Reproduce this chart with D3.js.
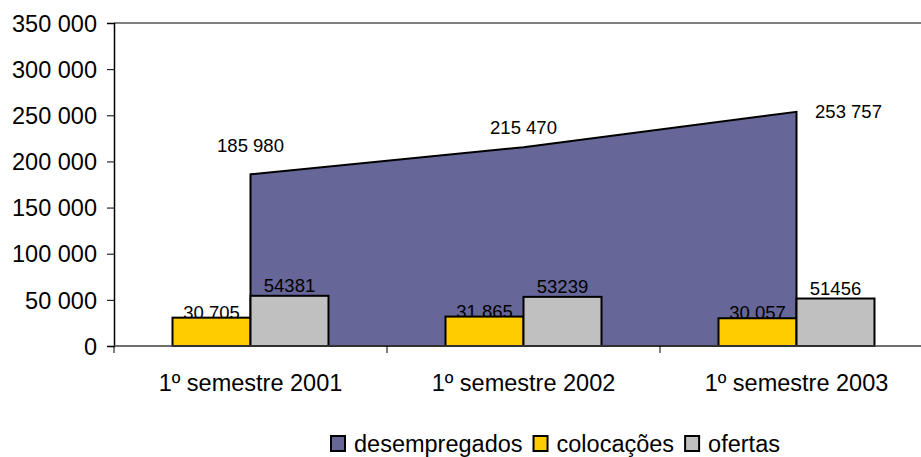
<!DOCTYPE html>
<html>
<head>
<meta charset="utf-8">
<script src="https://cdn.jsdelivr.net/npm/d3@7"></script>
<style>
	body { margin: 0; background: #fff; }
	text { font-family: "Liberation Sans", Arial, sans-serif; fill: #000; }
</style>
</head>
<body>
<div id="chart"></div>
<script>
const categories = ["1º semestre 2001", "1º semestre 2002", "1º semestre 2003"];
const desempregados = [185980, 215470, 253757];
const colocacoes = [30705, 31865, 30057];
const ofertas = [54381, 53239, 51456];
const colocacoesLabels = ["30 705", "31 865", "30 057"];
const ofertasLabels = ["54381", "53239", "51456"];
const desempregadosLabels = ["185 980", "215 470", "253 757"];
const yTicks = [0, 50000, 100000, 150000, 200000, 250000, 300000, 350000];

const width = 921, height = 457;
const margin = {top: 23, left: 114, bottom: 111};
const plotRight = 933;

const svg = d3.select("#chart")
	.append("svg")
	.attr("width", width)
	.attr("height", height);

const x = d3.scaleBand()
	.domain(categories)
	.range([margin.left, plotRight]);

const y = d3.scaleLinear()
	.domain([0, 350000])
	.range([height - margin.bottom, margin.top]);

const barW = 78;
const cx = d => x(d) + x.bandwidth() / 2;

// top border of plot area
svg.append("line")
	.attr("x1", margin.left).attr("x2", plotRight)
	.attr("y1", y(350000)).attr("y2", y(350000))
	.attr("stroke", "#808080").attr("stroke-width", 2);

// area for desempregados
const area = d3.area()
	.x((d, i) => cx(categories[i]))
	.y0(y(0))
	.y1(d => y(d));

svg.append("path")
	.datum(desempregados)
	.attr("d", area)
	.attr("fill", "#666699")
	.attr("stroke", "#000")
	.attr("stroke-width", 2)
	.attr("stroke-linejoin", "miter");

// labels under the bars (bar tops cover them slightly)
svg.selectAll("text.cl")
	.data(colocacoes).enter()
	.append("text")
	.attr("x", (d, i) => cx(categories[i]) - barW / 2)
	.attr("y", d => y(d) + 1)
	.attr("text-anchor", "middle")
	.style("font-size", "18.5px")
	.text((d, i) => colocacoesLabels[i]);

// bars
const bars = svg.append("g");
bars.selectAll("rect.col")
	.data(colocacoes).enter()
	.append("rect")
	.attr("x", (d, i) => cx(categories[i]) - barW)
	.attr("y", d => y(d))
	.attr("width", barW)
	.attr("height", d => y(0) - y(d))
	.attr("fill", "#FFCC00")
	.attr("stroke", "#000")
	.attr("stroke-width", 2);

bars.selectAll("rect.of")
	.data(ofertas).enter()
	.append("rect")
	.attr("x", (d, i) => cx(categories[i]))
	.attr("y", d => y(d))
	.attr("width", barW)
	.attr("height", d => y(0) - y(d))
	.attr("fill", "#C0C0C0")
	.attr("stroke", "#000")
	.attr("stroke-width", 2);

// axes
const yAxis = svg.append("g")
	.attr("transform", `translate(${margin.left},0)`)
	.call(d3.axisLeft(y).tickValues(yTicks).tickSize(7).tickPadding(10)
		.tickFormat(d => d3.format(",")(d).replace(/,/g, " ")));
yAxis.select(".domain").attr("stroke", "#000").attr("stroke-width", 1.5);
yAxis.selectAll(".tick line").attr("stroke", "#000");
yAxis.selectAll("text").style("font-size", "23.5px").attr("fill", "#000").attr("dy", "0.35em");

const xAxis = svg.append("g")
	.attr("transform", `translate(0,${y(0)})`);
xAxis.append("line")
	.attr("x1", margin.left).attr("x2", plotRight)
	.attr("stroke", "#404040").attr("stroke-width", 1.5);
xAxis.selectAll("line.tick")
	.data(categories.concat([null])).enter()
	.append("line")
	.attr("x1", (d, i) => margin.left + i * x.bandwidth())
	.attr("x2", (d, i) => margin.left + i * x.bandwidth())
	.attr("y1", 0).attr("y2", 7)
	.attr("stroke", "#000");
xAxis.selectAll("text")
	.data(categories).enter()
	.append("text")
	.attr("x", d => cx(d))
	.attr("y", 45)
	.attr("text-anchor", "middle")
	.style("font-size", "23.5px")
	.text(d => d);

// data labels
const labOffsets = [[0, -22], [0, -13], [52, 6]];
svg.selectAll("text.dl")
	.data(desempregados).enter()
	.append("text")
	.attr("x", (d, i) => cx(categories[i]) + labOffsets[i][0])
	.attr("y", (d, i) => y(d) + labOffsets[i][1])
	.attr("text-anchor", "middle")
	.style("font-size", "18.5px")
	.text((d, i) => desempregadosLabels[i]);

svg.selectAll("text.ol")
	.data(ofertas).enter()
	.append("text")
	.attr("x", (d, i) => cx(categories[i]) + barW / 2)
	.attr("y", d => y(d) - 4)
	.attr("text-anchor", "middle")
	.style("font-size", "18.5px")
	.text((d, i) => ofertasLabels[i]);

// legend
const legendItems = [
	{name: "desempregados", color: "#666699"},
	{name: "colocações", color: "#FFCC00"},
	{name: "ofertas", color: "#C0C0C0"}
];
const legend = svg.append("g").attr("transform", "translate(331,436)");
let lx = 0;
legendItems.forEach(item => {
	const g = legend.append("g").attr("transform", `translate(${lx},0)`);
	g.append("rect")
		.attr("width", 14).attr("height", 15)
		.attr("fill", item.color)
		.attr("stroke", "#000").attr("stroke-width", 2);
	const t = g.append("text")
		.attr("x", 23).attr("y", 16)
		.style("font-size", "23.5px")
		.text(item.name);
	lx += 23 + t.node().getComputedTextLength() + 11;
});
</script>
</body>
</html>
